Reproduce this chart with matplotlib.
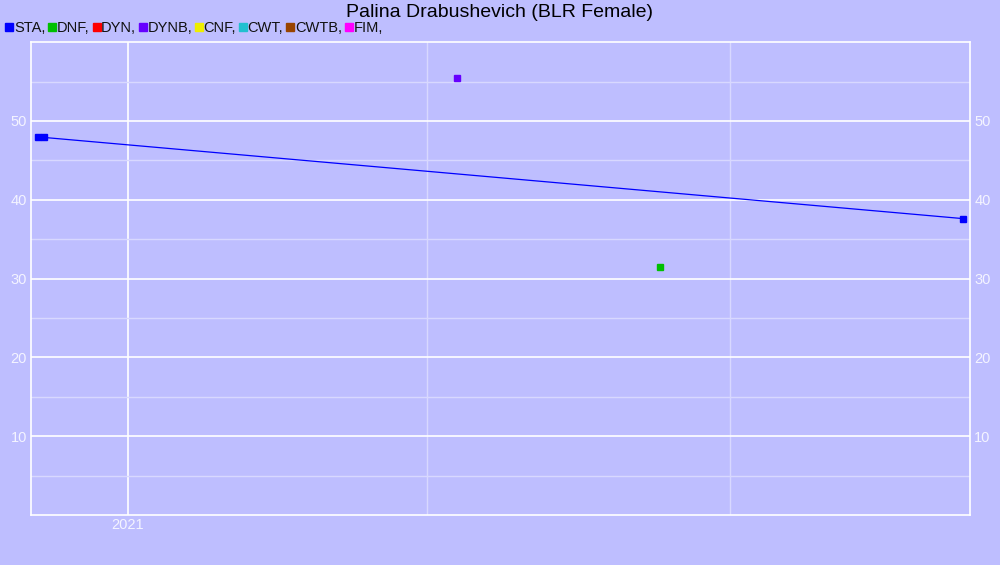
import numpy as np
import matplotlib
matplotlib.use("Agg")
import matplotlib.pyplot as plt
import matplotlib.dates as mdates
from matplotlib.lines import Line2D

plt.rcParams['font.family'] = ['Liberation Sans', 'DejaVu Sans']

title = "Palina Drabushevich (BLR Female)"
disciplines = ["STA", "DNF", "DYN", "DYNB", "CNF", "CWT", "CWTB", "FIM"]
colors = ["#0000ff", "#00c000", "#ff0000", "#6600ff", "#eeee00", "#20c0d0", "#994400", "#ff00ff"]

sta_dates = np.array(["2020-12-05", "2020-12-07", "2021-09-09"], dtype="datetime64[D]")
sta_vals = [47.9, 47.9, 37.6]
dnf_dates = np.array(["2021-06-10"], dtype="datetime64[D]")
dnf_vals = [31.5]
dynb_dates = np.array(["2021-04-10"], dtype="datetime64[D]")
dynb_vals = [55.5]

y_ticks = [10, 20, 30, 40, 50]
y_minor = [5, 15, 25, 35, 45, 55]

bg = "#bebeff"
fig = plt.figure(figsize=(10, 5.65), dpi=100, facecolor=bg)
ax = fig.add_axes([0.031, 0.0885, 0.939, 0.837], facecolor=bg)

ax.plot(sta_dates, sta_vals, color=colors[0], lw=0.9, marker="s", ms=4.5, zorder=3)
ax.plot(dnf_dates, dnf_vals, ls="none", color=colors[1], marker="s", ms=4.5, zorder=3)
ax.plot(dynb_dates, dynb_vals, ls="none", color=colors[3], marker="s", ms=4.5, zorder=3)

ax.set_xlim(np.datetime64("2020-12-03"), np.datetime64("2021-09-11"))
ax.set_ylim(0, 60)

ax.xaxis.set_major_locator(mdates.YearLocator())
ax.xaxis.set_major_formatter(mdates.DateFormatter("%Y"))
ax.xaxis.set_minor_locator(mdates.MonthLocator(bymonth=[4, 7, 10]))
ax.set_yticks(y_ticks)
ax.set_yticks(y_minor, minor=True)

ax.grid(which="major", color="white", lw=1.2)
ax.grid(which="minor", color="#d8d8ff", lw=1.0)
ax.set_axisbelow(True)
for s in ax.spines.values():
    s.set_color("white")
    s.set_linewidth(1.2)

ax.tick_params(which="both", length=0, colors="#f4f4ff", labelsize=10.5)
ax.tick_params(axis="y", labelright=True, pad=3)
ax.tick_params(axis="x", pad=2)

fig.text(0.5, 0.978, title, ha="center", va="center", fontsize=14, color="black")

handles = [Line2D([], [], ls="none", marker="s", ms=5.5, color=c) for c in colors]
labels = [d + "," for d in disciplines]
fig.legend(handles, labels, loc="center left", bbox_to_anchor=(0.0, 0.950), ncol=8,
           frameon=False, handlelength=0.5, handletextpad=0.05, columnspacing=0.24,
           fontsize=10.5, borderaxespad=0, labelcolor="#111111")

fig.savefig("out.png", dpi=100, facecolor=bg)
